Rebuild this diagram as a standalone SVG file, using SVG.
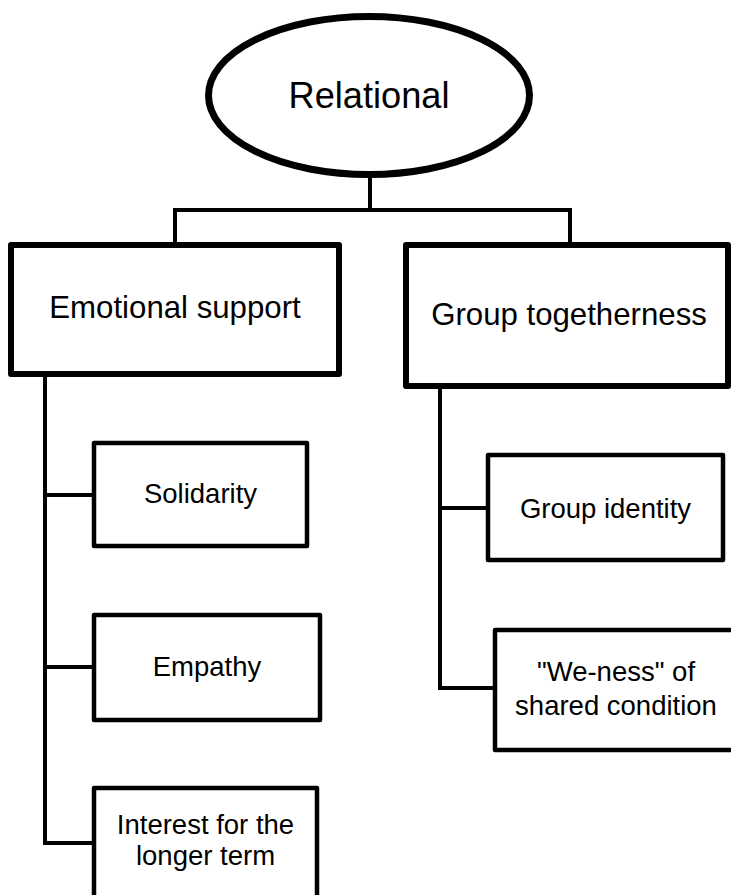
<svg xmlns="http://www.w3.org/2000/svg" width="731" height="895" viewBox="0 0 731 895">
<style>
  .bg{fill:#ffffff}
  .node1{fill:#ffffff;stroke:#000;stroke-width:6;stroke-linejoin:round}
  .node2{fill:#ffffff;stroke:#000;stroke-width:4.5;stroke-linejoin:round}
  .conn{fill:none;stroke:#000;stroke-width:4;stroke-linejoin:miter;stroke-linecap:butt}
  text{font-family:"Liberation Sans",Arial,sans-serif;fill:#000;text-anchor:middle}
  .t0{font-size:36.2px}
  .t1{font-size:31.2px}
  .t2{font-size:27.5px}
</style>
<rect class="bg" x="0" y="0" width="731" height="895"/>
<g id="connectors">
  <path class="conn" d="M370 176 V210 M175 245 V210 H570 V245"/>
  <path class="conn" d="M45 376 V843 H94 M45 495 H94 M45 667 H94"/>
  <path class="conn" d="M440 388 V688 H495 M440 508 H488"/>
</g>
<g id="relational">
  <ellipse cx="369" cy="95.5" rx="160.5" ry="79" fill="#fff" stroke="#000" stroke-width="7"/>
  <text class="t0" x="369" y="108">Relational</text>
</g>
<g id="emotional-support">
  <rect class="node1" x="11" y="245" width="328" height="129"/>
  <text class="t1" x="175" y="318">Emotional support</text>
</g>
<g id="group-togetherness">
  <rect class="node1" x="406" y="245" width="322" height="141"/>
  <text class="t1" x="569" y="325">Group togetherness</text>
</g>
<g id="solidarity">
  <rect class="node2" x="94" y="443" width="213" height="103"/>
  <text class="t2" x="200.5" y="503">Solidarity</text>
</g>
<g id="empathy">
  <rect class="node2" x="94" y="615" width="226" height="105"/>
  <text class="t2" x="207" y="676">Empathy</text>
</g>
<g id="interest">
  <rect class="node2" x="94" y="788" width="223" height="120"/>
  <text class="t2" x="205.5" y="834">Interest for the</text>
  <text class="t2" x="205.5" y="865">longer term</text>
</g>
<g id="group-identity">
  <rect class="node2" x="488" y="455" width="235" height="105"/>
  <text class="t2" x="605.5" y="518">Group identity</text>
</g>
<g id="we-ness">
  <rect class="node2" x="495" y="630" width="242" height="120"/>
  <text class="t2" x="616" y="681">"We-ness" of</text>
  <text class="t2" x="616" y="715">shared condition</text>
</g>
</svg>
